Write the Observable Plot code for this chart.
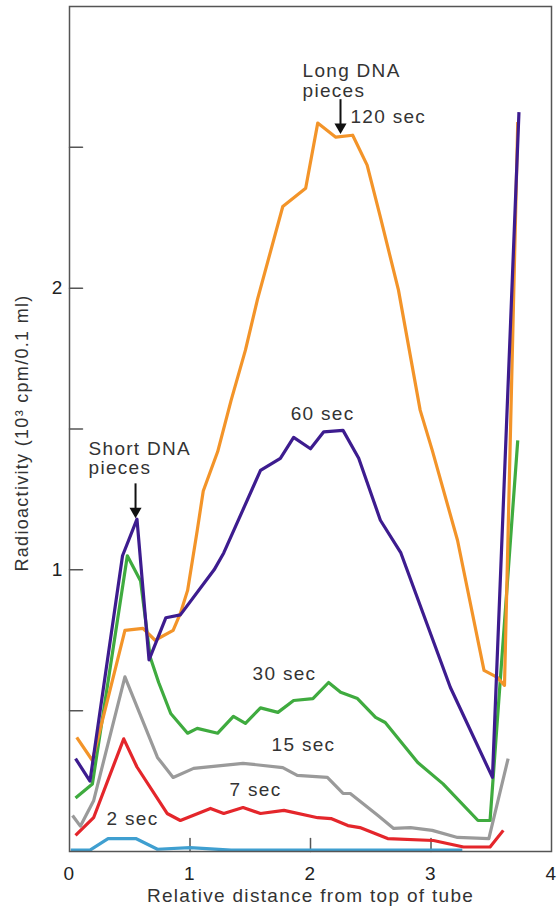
<!DOCTYPE html>
<html><head><meta charset="utf-8">
<script src="https://cdn.jsdelivr.net/npm/d3@7"></script>
<script src="https://cdn.jsdelivr.net/npm/@observablehq/plot@0.6"></script>
<style>body{margin:0;background:#fff}</style>
</head><body><div id="chart"></div>
<script>
// Axis ticks
const xTickLabels = [0, 1, 2, 3, 4];
const xTickMarks = [1, 2, 3];
const yTickLabels = [1, 2];
const yTickMarks = [0.5, 1, 1.5, 2, 2.5];

// Series values: [relative distance, radioactivity (10^3 cpm/0.1 ml)]
const sec2 = [[0.01,0.005],[0.17,0.005],[0.32,0.046],[0.55,0.046],[0.73,0.008],[1.0,0.014],[1.34,0.005],[3.26,0.005]];
const sec7 = [[0.05,0.057],[0.2,0.12],[0.45,0.40],[0.56,0.30],[0.81,0.135],[0.92,0.11],[1.17,0.153],[1.28,0.135],[1.44,0.156],[1.585,0.135],[1.78,0.146],[2.06,0.12],[2.17,0.117],[2.31,0.092],[2.41,0.085],[2.64,0.046],[3.02,0.039],[3.27,0.016],[3.49,0.016],[3.60,0.075]];
const sec15 = [[0.025,0.128],[0.09,0.09],[0.2,0.18],[0.46,0.62],[0.73,0.334],[0.86,0.263],[1.03,0.295],[1.44,0.313],[1.77,0.298],[1.89,0.27],[2.14,0.263],[2.27,0.206],[2.33,0.206],[2.56,0.128],[2.69,0.082],[2.83,0.085],[3.01,0.075],[3.22,0.05],[3.48,0.046],[3.64,0.33]];
const sec30 = [[0.05,0.19],[0.19,0.24],[0.48,1.05],[0.59,0.96],[0.67,0.69],[0.74,0.60],[0.84,0.49],[0.98,0.42],[1.06,0.437],[1.23,0.42],[1.36,0.48],[1.46,0.455],[1.585,0.51],[1.73,0.494],[1.86,0.536],[2.02,0.543],[2.15,0.60],[2.25,0.565],[2.39,0.543],[2.54,0.476],[2.62,0.458],[2.89,0.316],[3.10,0.24],[3.39,0.11],[3.49,0.11],[3.72,1.46]];
const sec60 = [[0.05,0.33],[0.17,0.25],[0.44,1.05],[0.56,1.18],[0.66,0.68],[0.80,0.83],[0.92,0.84],[1.20,1.00],[1.28,1.06],[1.585,1.353],[1.75,1.396],[1.86,1.47],[2.00,1.43],[2.11,1.49],[2.27,1.495],[2.40,1.396],[2.58,1.176],[2.75,1.06],[3.16,0.583],[3.51,0.263],[3.73,2.625]];
const sec120 = [[0.06,0.405],[0.19,0.323],[0.46,0.785],[0.61,0.792],[0.71,0.75],[0.86,0.785],[0.92,0.845],[0.98,0.927],[1.06,1.14],[1.11,1.28],[1.23,1.42],[1.34,1.60],[1.46,1.78],[1.56,1.96],[1.77,2.29],[1.96,2.355],[2.06,2.586],[2.21,2.536],[2.35,2.543],[2.47,2.437],[2.58,2.252],[2.73,1.993],[2.91,1.567],[3.01,1.425],[3.22,1.105],[3.44,0.643],[3.55,0.618],[3.61,0.59],[3.72,2.59]];

const seriesNames = ["2 sec", "7 sec", "15 sec", "30 sec", "120 sec", "60 sec"];
const seriesData = [sec2, sec7, sec15, sec30, sec120, sec60];
const seriesColors = ["#3f9fd0", "#e4262b", "#9a9a9a", "#3fab3f", "#f39429", "#3d1c8f"];

// Annotations
const startLabels = [
  {text: "120 sec", x: 2.332, y: 2.609},
  {text: "Long DNA", x: 1.934, y: 2.771},
  {text: "pieces", x: 1.934, y: 2.700},
  {text: "Short DNA", x: 0.158, y: 1.430},
  {text: "pieces", x: 0.158, y: 1.361}
];
const middleLabels = [
  {text: "60 sec", x: 2.100, y: 1.554},
  {text: "30 sec", x: 1.784, y: 0.631},
  {text: "15 sec", x: 1.942, y: 0.378},
  {text: "7 sec", x: 1.544, y: 0.217},
  {text: "2 sec", x: 0.523, y: 0.1155}
];
const arrows = [
  {x: 2.249, y1: 2.671, y2: 2.558},
  {x: 0.548, y1: 1.307, y2: 1.194}
];

const rows = seriesData.flatMap((s, i) => s.map(([x, y]) => ({series: seriesNames[i], x, y})));

const tickShape = {draw(context, l) { context.moveTo(0, 0); context.lineTo(0, -l); }};

const chart = Plot.plot({
  width: 557,
  height: 912,
  marginLeft: 69,
  marginRight: 6,
  marginTop: 6,
  marginBottom: 61,
  x: {domain: [0, 4]},
  y: {domain: [0, 3]},
  color: {domain: seriesNames, range: seriesColors},
  style: {fontFamily: "'Liberation Sans', Arial, sans-serif", fontSize: "19px", color: "#222", background: "#fff"},
  marks: [
    Plot.axisX({ticks: xTickLabels, tickFormat: d3.format("d"), tickSize: 0, tickPadding: 15, label: null, fontSize: 19}),
    Plot.axisY({ticks: yTickLabels, tickFormat: d3.format("d"), tickSize: 0, tickPadding: 6, label: null, fontSize: 19}),
    Plot.vector(xTickMarks, {x: d => d, y: 0, length: 13, anchor: "start", shape: tickShape, stroke: "#555", strokeWidth: 1.5}),
    Plot.vector(yTickMarks, {x: 0, y: d => d, length: 13, rotate: 90, anchor: "start", shape: tickShape, stroke: "#555", strokeWidth: 1.5}),
    Plot.line(rows, {x: "x", y: "y", z: "series", stroke: "series", strokeWidth: 3.2, strokeLinejoin: "round", strokeLinecap: "butt"}),
    Plot.frame({stroke: "#555", strokeWidth: 1.5}),
    Plot.text(startLabels, {x: "x", y: "y", text: "text", textAnchor: "start", fill: "#333", fontSize: 19}),
    Plot.text(middleLabels, {x: "x", y: "y", text: "text", textAnchor: "middle", fill: "#333", fontSize: 19}),
    Plot.link(arrows, {x1: "x", y1: "y1", x2: "x", y2: "y2", stroke: "#111", strokeWidth: 2}),
    Plot.dot(arrows, {x: "x", y: "y2", symbol: "triangle", rotate: 180, r: 4.5, fill: "#111", stroke: "none", dy: -4}),
    Plot.text(["Relative distance from top of tube"], {frameAnchor: "bottom", textAnchor: "middle", text: d => d, dy: 50, fill: "#333", fontSize: 19}),
    Plot.text(["Radioactivity (10³ cpm/0.1 ml)"], {frameAnchor: "left", textAnchor: "middle", text: d => d, rotate: -90, dx: -47, dy: 4, fill: "#333", fontSize: 18})
  ]
});
chart.querySelectorAll("text").forEach(t => t.style.letterSpacing = "1.3px");
document.getElementById("chart").appendChild(chart);
</script>
</body></html>
